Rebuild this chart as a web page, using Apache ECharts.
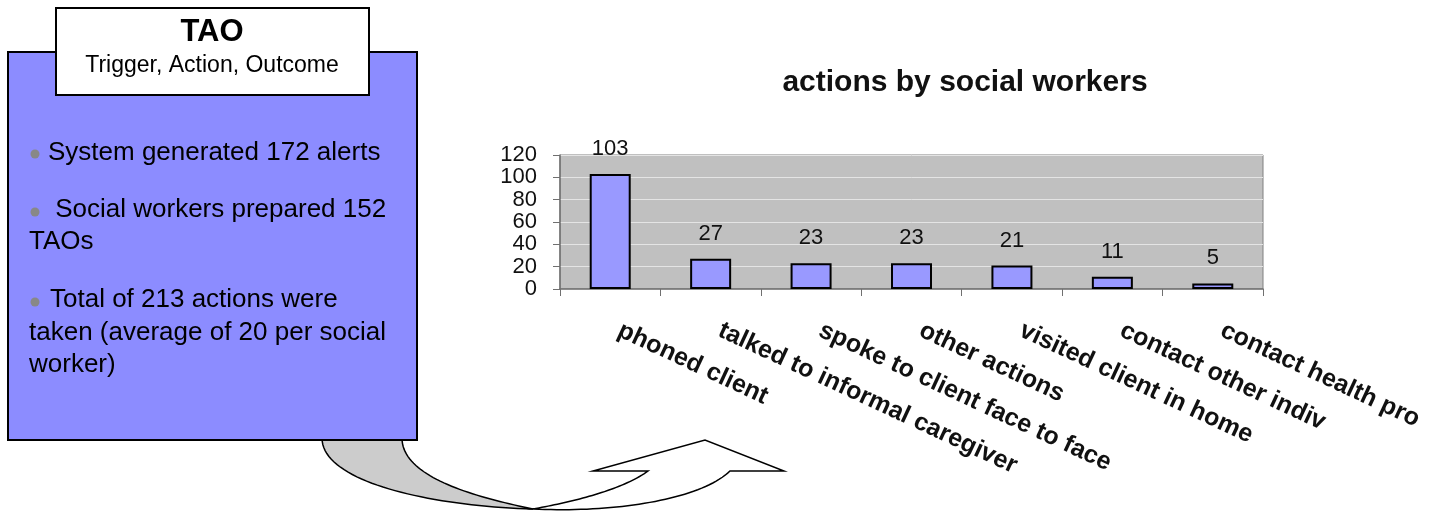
<!DOCTYPE html>
<html>
<head>
<meta charset="utf-8">
<script src="https://cdn.jsdelivr.net/npm/echarts@6/dist/echarts.min.js"></script>
<style>
html,body{margin:0;padding:0;background:#fff;}
#chart{width:1441px;height:515px;}
</style>
</head>
<body>
<div id="chart"></div>
<script>
const categories = ['phoned client', 'talked to informal caregiver', 'spoke to client face to face', 'other actions', 'visited client in home', 'contact other indiv', 'contact health pro'];
const values = [103, 27, 23, 23, 21, 11, 5];
const yMin = 0, yMax = 120, yStep = 20;
const chartTitle = 'actions by social workers';
const boxTitle = 'TAO';
const boxSubtitle = 'Trigger, Action, Outcome';
const boxLines = [
  'System generated 172 alerts',
  ' Social workers prepared 152',
  'TAOs',
  'Total of 213 actions were',
  'taken (average of 20 per social',
  'worker)'
];

const chart = echarts.init(document.getElementById('chart'));
const txtFont = '26px "Liberation Sans", Arial, sans-serif';

// sample a cubic bezier into points (decorative shape only)
function bez(p0, p1, p2, p3, n) {
  const pts = [];
  for (let i = 0; i <= n; i++) {
    const t = i / n, u = 1 - t;
    pts.push([
      u*u*u*p0[0] + 3*u*u*t*p1[0] + 3*u*t*t*p2[0] + t*t*t*p3[0],
      u*u*u*p0[1] + 3*u*u*t*p1[1] + 3*u*t*t*p2[1] + t*t*t*p3[1]
    ]);
  }
  return pts;
}
const bandPts = bez([322, 438], [322, 482], [430, 506], [533, 509], 40)
  .concat(bez([533, 509], [470, 496], [402, 476], [402, 438], 40));
const arrowPts = bez([533, 509], [612, 513], [700, 500], [730, 471], 40)
  .concat([[784, 471], [705, 440], [593, 471], [648, 471]])
  .concat(bez([648, 471], [622, 490], [572, 502], [533, 509], 40));

const graphics = [
  { type: 'polygon', z: 1, shape: { points: bandPts },
    style: { fill: '#cccccc', stroke: '#000', lineWidth: 1.5 } },
  { type: 'polygon', z: 1, shape: { points: arrowPts },
    style: { fill: '#ffffff', stroke: '#000', lineWidth: 1.5 } },
  { type: 'rect', z: 2, shape: { x: 8, y: 52, width: 409, height: 388 },
    style: { fill: '#8c8cff', stroke: '#000', lineWidth: 2 } },
  { type: 'rect', z: 3, shape: { x: 56, y: 8, width: 313, height: 87 },
    style: { fill: '#ffffff', stroke: '#000', lineWidth: 2 } },
  { type: 'text', z: 4, x: 212, y: 32,
    style: { text: boxTitle, font: 'bold 31px "Liberation Sans", Arial, sans-serif', fill: '#000', textAlign: 'center', textVerticalAlign: 'middle' } },
  { type: 'text', z: 4, x: 212, y: 66,
    style: { text: boxSubtitle, font: '23px "Liberation Sans", Arial, sans-serif', fill: '#000', textAlign: 'center', textVerticalAlign: 'middle' } }
];
const bulletY = [154, 212, 302];
bulletY.forEach(function (y) {
  graphics.push({ type: 'circle', z: 4, shape: { cx: 35, cy: y, r: 4.5 }, style: { fill: '#888888' } });
});
const linePos = [[48, 153], [48, 210], [29, 242], [50, 300], [29, 333], [29, 365]];
boxLines.forEach(function (t, i) {
  graphics.push({ type: 'text', z: 4, x: linePos[i][0], y: linePos[i][1],
    style: { text: t, font: txtFont, fill: '#000', textAlign: 'left', textVerticalAlign: 'middle' } });
});

chart.setOption({
  animation: false,
  backgroundColor: '#ffffff',
  title: {
    text: chartTitle,
    left: 960,
    top: 63,
    textAlign: 'center',
    textStyle: { fontFamily: '"Liberation Sans", Arial, sans-serif', fontWeight: 'bold', fontSize: 30, color: '#111' }
  },
  grid: {
    left: 560, right: 178, top: 155, bottom: 226,
    show: true, backgroundColor: '#c0c0c0', borderColor: '#808080', borderWidth: 1
  },
  xAxis: {
    type: 'category',
    data: categories,
    axisLine: { lineStyle: { color: '#707070', width: 1.5 } },
    axisTick: { show: true, length: 7, lineStyle: { color: '#707070' } },
    axisLabel: {
      interval: 0, rotate: -25, margin: 36, padding: [0, 0, 0, 10],
      fontFamily: '"Liberation Sans", Arial, sans-serif', fontWeight: 'bold', fontSize: 25, color: '#111'
    },
    splitLine: { show: false }
  },
  yAxis: {
    type: 'value',
    min: yMin, max: yMax, interval: yStep,
    axisLine: { show: true, lineStyle: { color: '#707070', width: 1.5 } },
    axisTick: { show: true, length: 7, lineStyle: { color: '#707070' } },
    axisLabel: { margin: 23, fontFamily: '"Liberation Sans", Arial, sans-serif', fontSize: 22, color: '#111' },
    splitLine: { lineStyle: { color: '#e4e4e4', width: 1 } }
  },
  series: [{
    type: 'bar',
    data: values,
    barWidth: 41,
    itemStyle: { color: '#9999ff', borderColor: '#000', borderWidth: 2 },
    label: {
      show: true, position: 'top', distance: 14,
      fontFamily: '"Liberation Sans", Arial, sans-serif', fontSize: 22, color: '#111'
    }
  }],
  graphic: graphics
});
</script>
</body>
</html>
